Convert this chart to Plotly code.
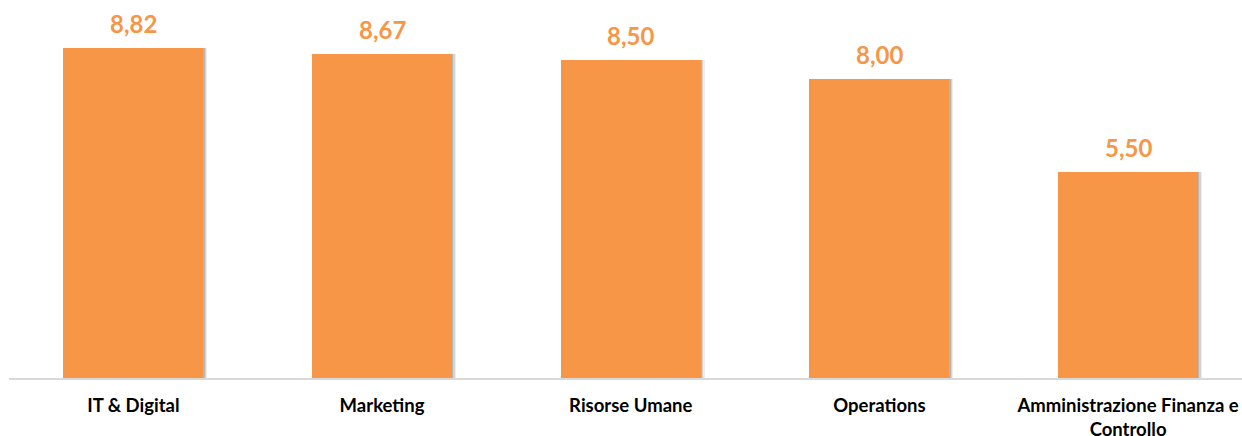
import plotly.graph_objects as go

categories = ["IT & Digital", "Marketing", "Risorse Umane", "Operations",
              "Amministrazione Finanza e<br>Controllo"]
values = [8.82, 8.67, 8.50, 8.00, 5.50]

ORANGE = "#F79646"
FONT = "Lato"
xpos = list(range(len(categories)))
bw = 0.563

fig = go.Figure()
# soft shadow layers
for dx, alpha in [(0.016, 0.07), (0.010, 0.10), (0.005, 0.14)]:
    fig.add_trace(go.Bar(
        x=xpos, y=values, width=bw, offset=-bw / 2 + dx,
        marker=dict(color=f"rgba(0,0,0,{alpha})", line=dict(width=0)),
        hoverinfo="skip", showlegend=False))
fig.add_trace(go.Bar(
    x=xpos, y=values, width=bw, offset=-bw / 2,
    marker=dict(color=ORANGE, line=dict(width=0)),
    showlegend=False))

for x, v in zip(xpos, values):
    fig.add_annotation(x=x, y=v, text=f"{v:.2f}".replace(".", ","),
                       showarrow=False, yanchor="bottom", yshift=8,
                       font=dict(family=FONT, size=24, color=ORANGE, weight="bold"))

fig.update_layout(
    width=1242, height=436,
    margin=dict(l=9, r=0, t=0, b=58, autoexpand=False),
    plot_bgcolor="white", paper_bgcolor="white",
    barmode="overlay", bargap=0,
    xaxis=dict(range=[-0.5, 4.458], tickvals=xpos, ticktext=categories,
               automargin=False,
               showgrid=False, zeroline=False, showline=True, linecolor="#D9D9D9",
               linewidth=2, ticks="", ticklabelstandoff=10,
               tickfont=dict(family=FONT, size=18.5, color="black", weight="bold")),
    yaxis=dict(range=[0, 10.1], visible=False, automargin=False),
)

fig.write_html("out.html")
